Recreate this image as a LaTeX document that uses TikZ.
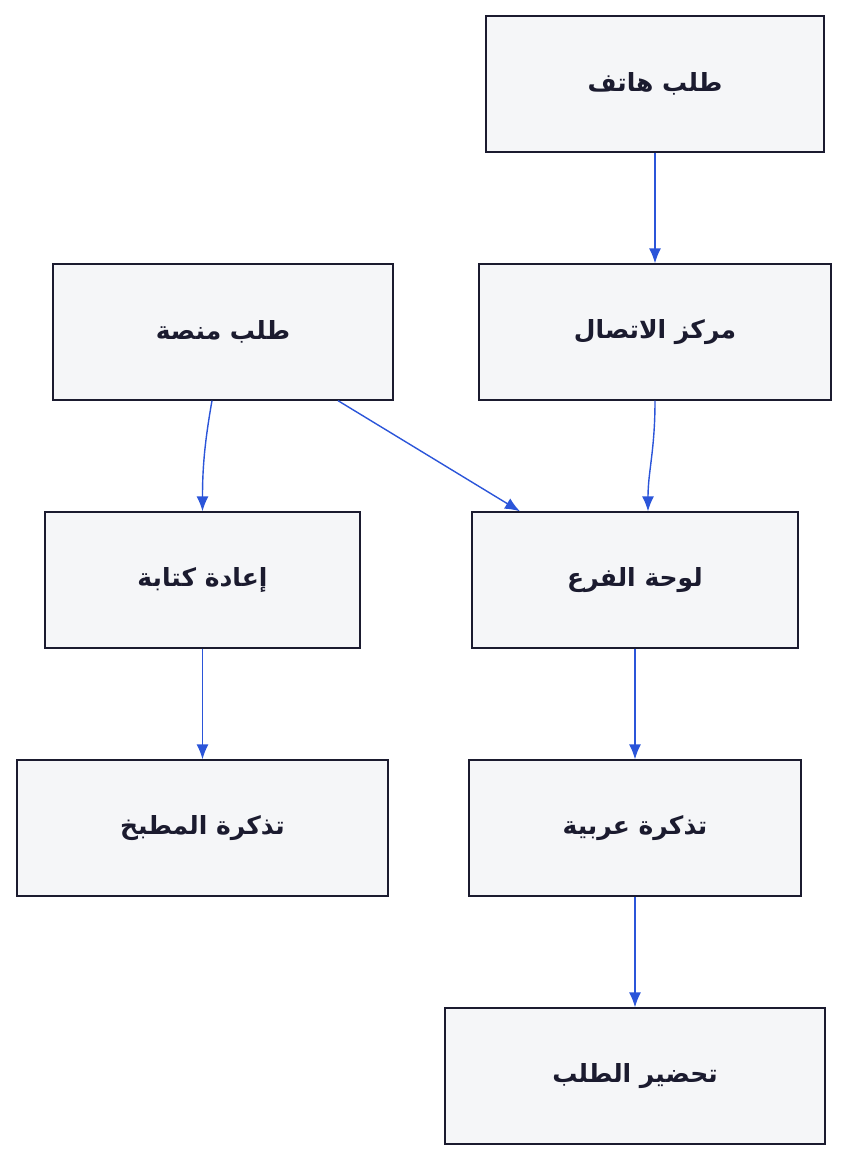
\documentclass[tikz,border=0pt]{standalone}
\usepackage{fontspec}
\setmainfont{DejaVu Sans}[Script=Arabic]
\usetikzlibrary{arrows.meta}
\TeXXeTstate=1
\definecolor{bx}{HTML}{F5F6F8}
\definecolor{bd}{HTML}{1B1B2F}
\definecolor{ar}{HTML}{2B55D9}
\begin{document}
\begin{tikzpicture}[x=1pt,y=-1pt,
  box/.style={draw=bd,fill=bx,line width=1.3pt,inner sep=0pt,font=\bfseries\fontsize{25}{30}\selectfont,text=bd},
  arr/.style={draw=ar,line width=1.4pt,-{Latex[length=15pt,width=12pt]}}]
\useasboundingbox (0,0) rectangle (848,1160);
\newcommand\Bx[6]{\node[box,minimum width={#4-#2},minimum height={#5-#3}] (#1) at ({(#2+#4)/2},{(#3+#5)/2}) {\beginR #6\endR};}
\Bx{n1}{486}{16}{824}{152}{طلب هاتف}
\Bx{n2}{479}{264}{831}{400}{مركز الاتصال}
\Bx{n3}{53}{264}{393}{400}{طلب منصة}
\Bx{n4}{45}{512}{360}{648}{إعادة كتابة}
\Bx{n5}{472}{512}{798}{648}{لوحة الفرع}
\Bx{n6}{17}{760}{388}{896}{تذكرة المطبخ}
\Bx{n7}{469}{760}{801}{896}{تذكرة عربية}
\Bx{n8}{445}{1008}{825}{1144}{تحضير الطلب}
\draw[arr] ([xshift=0pt]n1.south) -- ([xshift=0pt]n2.north);
\draw[arr] ([xshift=0pt]n2.south) .. controls +(0,50) and +(0,-40) .. ([xshift=13pt]n5.north);
\draw[arr] ([xshift=-11pt]n3.south) .. controls +(-8,45) and +(0,-40) .. ([xshift=0pt]n4.north);
\draw[arr] ([xshift=115pt]n3.south) -- ([xshift=-115pt]n5.north);
\draw[arr] (n4.south) -- (n6.north);
\draw[arr] (n5.south) -- (n7.north);
\draw[arr] (n7.south) -- (n8.north);
\end{tikzpicture}
\end{document}
